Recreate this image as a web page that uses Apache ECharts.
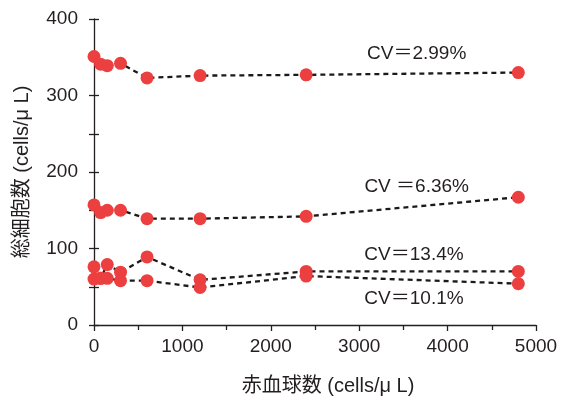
<!DOCTYPE html>
<html><head><meta charset="utf-8">
<script src="https://cdn.jsdelivr.net/npm/echarts@6/dist/echarts.min.js"></script>
<style>html,body{margin:0;padding:0;background:#fff}#c{width:562px;height:403px}</style>
</head><body><div id="c"></div>
<script>
const xValues = [0, 75, 150, 300, 600, 1200, 2400, 4800];
const seriesA = [351, 341, 339, 342, 323, 326, 327, 330]; // CV 2.99%
const seriesB = [157, 147, 150, 150, 139, 139, 142, 167]; // CV 6.36%
const seriesC = [76, 61, 79, 69, 89, 59, 70, 70];         // CV 13.4%
const seriesD = [60, 61, 61, 58, 58, 49, 64, 54];         // CV 10.1%
const cvTexts = ['CV＝2.99%', 'CV ＝6.36%', 'CV＝13.4%', 'CV＝10.1%'];
const cvAnchorX = [3650, 3650, 3620, 3620];
const cvAnchorY = [354, 181, 92, 34];
const font = '"Liberation Sans", "Noto Sans CJK JP", sans-serif';
const col = '#231f20';
const red = '#ec3f3f';
function mk(vals) {
  return {
    type: 'line', data: xValues.map((x, i) => [x, vals[i]]),
    symbol: 'circle', symbolSize: 13,
    itemStyle: {color: red},
    lineStyle: {color: '#1a1a1a', type: [5, 4], width: 2.3},
    z: 3
  };
}
const chart = echarts.init(document.getElementById('c'));
chart.setOption({
  animation: false,
  grid: {left: 94, right: 26, top: 19, bottom: 78},
  xAxis: {
    type: 'value', min: 0, max: 5000, interval: 1000,
    name: '赤血球数 (cells/μ L)', nameLocation: 'middle', nameGap: 51,
    nameTextStyle: {fontFamily: font, fontSize: 20, color: col, padding: [0, 0, 0, 26]},
    axisLine: {lineStyle: {color: col, width: 1.3}},
    axisTick: {show: true, length: 6, lineStyle: {color: col, width: 1.3}},
    minorTick: {show: true, splitNumber: 2, length: 5, lineStyle: {color: col, width: 1.3}},
    axisLabel: {fontFamily: font, fontSize: 19, color: col, margin: 12, formatter: v => String(v)},
    splitLine: {show: false}
  },
  yAxis: [{
    type: 'value', min: 0, max: 400, interval: 100,
    name: '総細胞数 (cells/μ L)', nameLocation: 'middle', nameGap: 62, nameRotate: 90,
    nameTextStyle: {fontFamily: font, fontSize: 20, color: col},
    axisLine: {show: true, lineStyle: {color: col, width: 1.3}},
    axisTick: {show: true, length: 5, lineStyle: {color: col, width: 1.3}},
    minorTick: {show: true, splitNumber: 2, length: 5, lineStyle: {color: col, width: 1.3}},
    axisLabel: {fontFamily: font, fontSize: 19, color: col, margin: 16},
    splitLine: {show: false}
  }, {
    type: 'value', min: 0, max: 400, interval: 100, position: 'left',
    axisLine: {show: false},
    axisTick: {show: true, inside: true, length: 5, lineStyle: {color: col, width: 1.3}},
    minorTick: {show: true, splitNumber: 2, length: 5, lineStyle: {color: col, width: 1.3}},
    axisLabel: {show: false},
    splitLine: {show: false}
  }],
  series: [mk(seriesA), mk(seriesB), mk(seriesC), mk(seriesD)]
});
const g = cvTexts.map((t, i) => {
  const p = chart.convertToPixel({xAxisIndex: 0, yAxisIndex: 0}, [cvAnchorX[i], cvAnchorY[i]]);
  return {type: 'text', x: p[0], y: p[1], z: 10,
    style: {text: t, fill: col, font: '19px ' + font, align: 'center', verticalAlign: 'middle'}};
});
chart.setOption({graphic: g});
</script></body></html>
